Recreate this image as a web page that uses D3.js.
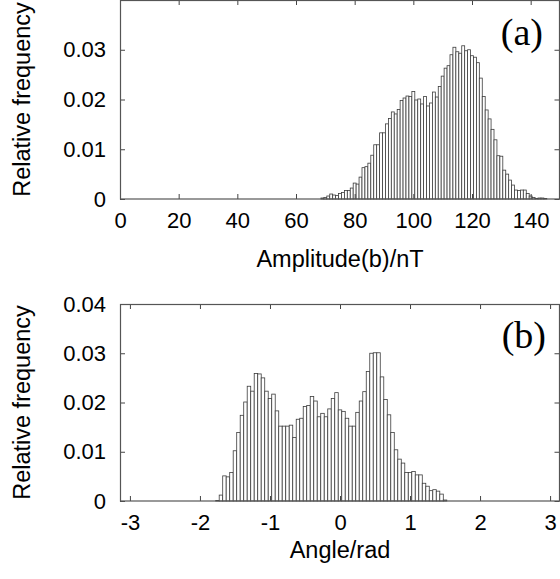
<!DOCTYPE html>
<html>
<head>
<meta charset="utf-8">
<script src="https://cdn.jsdelivr.net/npm/d3@7"></script>
<style>
  body { margin: 0; background: #fff; }
  svg { display: block; }
  text { font-family: "Liberation Sans", Arial, Helvetica, sans-serif; fill: #000; }
</style>
</head>
<body>
<div id="chart"></div>
<script>
// panel (a): amplitude histogram, bin centres in nT
var ampBins = [69, 70, 71, 72, 73, 74, 75, 76, 77, 78, 79, 80, 81, 82, 83, 84, 85, 86, 87, 88, 89,
    90, 91, 92, 93, 94, 95, 96, 97, 98, 99, 100, 101, 102, 103, 104, 105, 106, 107, 108, 109,
    110, 111, 112, 113, 114, 115, 116, 117, 118, 119, 120, 121, 122, 123, 124, 125, 126, 127,
    128, 129, 130, 131, 132, 133, 134, 135, 136, 137, 138, 139, 140, 141, 142, 143, 144, 145];
var ampFreq = [0.0002, 0.0003, 0.0006, 0.0010, 0.0008, 0.0007, 0.0011, 0.0013, 0.0017, 0.0017, 0.0022,
    0.0032, 0.0030, 0.0044, 0.0063, 0.0065, 0.0072, 0.0088, 0.0109, 0.0109, 0.0133,
    0.0133, 0.0151, 0.0162, 0.0175, 0.0171, 0.0180, 0.0198, 0.0203, 0.0207, 0.0206,
    0.0216, 0.0199, 0.0201, 0.0191, 0.0206, 0.0187, 0.0193, 0.0215, 0.0205, 0.0226,
    0.0247, 0.0263, 0.0268, 0.0290, 0.0305, 0.0296, 0.0293, 0.0308, 0.0298, 0.0300,
    0.0288, 0.0285, 0.0274, 0.0243, 0.0206, 0.0179, 0.0161, 0.0140, 0.0119, 0.0087,
    0.0086, 0.0058, 0.0050, 0.0038, 0.0028, 0.0018, 0.0017, 0.0018, 0.0018, 0.0011,
    0.0006, 0.0003, 0.0001, 0.0002, 0.0002, 0.0001];
var ampWidth = 1;
var ampTicks = [0, 20, 40, 60, 80, 100, 120, 140];

// panel (b): angle histogram, bin centres in rad
var angBins = [-1.75, -1.70, -1.65, -1.60, -1.55, -1.50, -1.45, -1.40, -1.35, -1.30, -1.25, -1.20,
    -1.15, -1.10, -1.05, -1.00, -0.95, -0.90, -0.85, -0.80, -0.75, -0.70, -0.65, -0.60,
    -0.55, -0.50, -0.45, -0.40, -0.35, -0.30, -0.25, -0.20, -0.15, -0.10, -0.05, 0.00,
    0.05, 0.10, 0.15, 0.20, 0.25, 0.30, 0.35, 0.40, 0.45, 0.50, 0.55, 0.60, 0.65, 0.70,
    0.75, 0.80, 0.85, 0.90, 0.95, 1.00, 1.05, 1.10, 1.15, 1.20, 1.25, 1.30, 1.35, 1.40,
    1.45, 1.50];
var angFreq = [0.0001, 0.0012, 0.0051, 0.0049, 0.0058, 0.0102, 0.0139, 0.0174, 0.0201, 0.0233, 0.0223, 0.0259,
    0.0258, 0.0250, 0.0223, 0.0208, 0.0217, 0.0183, 0.0152, 0.0152, 0.0152, 0.0154, 0.0129, 0.0166,
    0.0168, 0.0192, 0.0194, 0.0212, 0.0203, 0.0171, 0.0178, 0.0171, 0.0187, 0.0208, 0.0220, 0.0185,
    0.0182, 0.0168, 0.0152, 0.0152, 0.0180, 0.0203, 0.0222, 0.0263, 0.0300, 0.0301, 0.0301, 0.0252,
    0.0206, 0.0175, 0.0139, 0.0104, 0.0085, 0.0077, 0.0058, 0.0058, 0.0060, 0.0053, 0.0053, 0.0036,
    0.0030, 0.0021, 0.0023, 0.0020, 0.0014, 0.0002];
var angWidth = 0.05;
var angTicks = [-3, -2, -1, 0, 1, 2, 3];

var yTicksA = [0, 0.01, 0.02, 0.03];
var yTicksB = [0, 0.01, 0.02, 0.03, 0.04];

(function(){
    var width = 560,
        height = 579;

    var svg = d3.select("#chart")
        .append("svg")
        .attr("width", width)
        .attr("height", height);

    var fmtY = function(d){ return d === 0 ? "0" : d3.format(".2f")(d); };
    var fmtX = function(d){ return String(d); };

    function panel(opts) {
        var x = d3.scaleLinear().domain(opts.xDomain).range([120, 560]);
        var y = d3.scaleLinear().domain([0, 0.04]).range([opts.bottom, opts.top]);
        var g = svg.append("g");

        var data = opts.bins.map(function(c, i){ return {c: c, v: opts.freq[i]}; });

        g.selectAll(".bar")
            .data(data)
            .enter().append("rect")
            .attr("class", "bar")
            .attr("x", function(d){ return x(d.c - opts.w / 2); })
            .attr("width", function(d){ return x(d.c + opts.w / 2) - x(d.c - opts.w / 2); })
            .attr("y", function(d){ return y(d.v); })
            .attr("height", function(d){ return y(0) - y(d.v); })
            .attr("fill", "#fff")
            .attr("stroke", "#3c3c3c")
            .attr("stroke-width", 0.8);

        function style(sel) {
            sel.select(".domain").remove();
            sel.selectAll(".tick line").attr("stroke", "#444").attr("stroke-width", 1);
            sel.selectAll(".tick text").attr("font-size", 22).attr("fill", "#000");
        }

        g.append("g")
            .attr("transform", "translate(0," + opts.bottom + ")")
            .call(d3.axisBottom(x).tickValues(opts.xTicks).tickFormat(fmtX).tickSize(-5).tickPadding(13))
            .call(style);
        g.append("g")
            .attr("transform", "translate(0," + opts.top + ")")
            .call(d3.axisTop(x).tickValues(opts.xTicks).tickFormat("").tickSize(-5))
            .call(style);
        g.append("g")
            .attr("transform", "translate(120,0)")
            .call(d3.axisLeft(y).tickValues(opts.yTicks).tickFormat(fmtY).tickSize(-5).tickPadding(14))
            .call(style);
        g.append("g")
            .attr("transform", "translate(559.5,0)")
            .call(d3.axisRight(y).tickValues(opts.yTicks).tickFormat("").tickSize(-5))
            .call(style);

        g.append("rect")
            .attr("x", 120.5)
            .attr("y", opts.top + 0.5)
            .attr("width", 439)
            .attr("height", opts.bottom - opts.top - 0.5)
            .attr("fill", "none")
            .attr("stroke", "#555")
            .attr("stroke-width", 1.2);

        g.append("text")
            .attr("x", 340)
            .attr("y", opts.bottom + opts.titleGap)
            .attr("text-anchor", "middle")
            .attr("font-size", 23.5)
            .text(opts.xTitle);

        g.append("text")
            .attr("transform", "translate(30," + ((opts.top + opts.bottom) / 2) + ") rotate(-90)")
            .attr("text-anchor", "middle")
            .attr("font-size", 23.5)
            .text("Relative frequency");

        g.append("text")
            .attr("x", opts.tagX)
            .attr("y", opts.tagY)
            .attr("text-anchor", "end")
            .attr("font-size", 38)
            .style("font-family", "'Liberation Serif', 'Times New Roman', serif")
            .text(opts.tag);
    }

    panel({
        bins: ampBins, freq: ampFreq, w: ampWidth,
        xDomain: [0, 150], xTicks: ampTicks, yTicks: yTicksA,
        top: 0, bottom: 199, titleGap: 68,
        xTitle: "Amplitude(b)/nT", tag: "(a)", tagX: 543, tagY: 45
    });

    panel({
        bins: angBins, freq: angFreq, w: angWidth,
        xDomain: [-Math.PI, Math.PI], xTicks: angTicks, yTicks: yTicksB,
        top: 304, bottom: 501, titleGap: 57,
        xTitle: "Angle/rad", tag: "(b)", tagX: 546, tagY: 348
    });
})();
</script>
</body>
</html>
